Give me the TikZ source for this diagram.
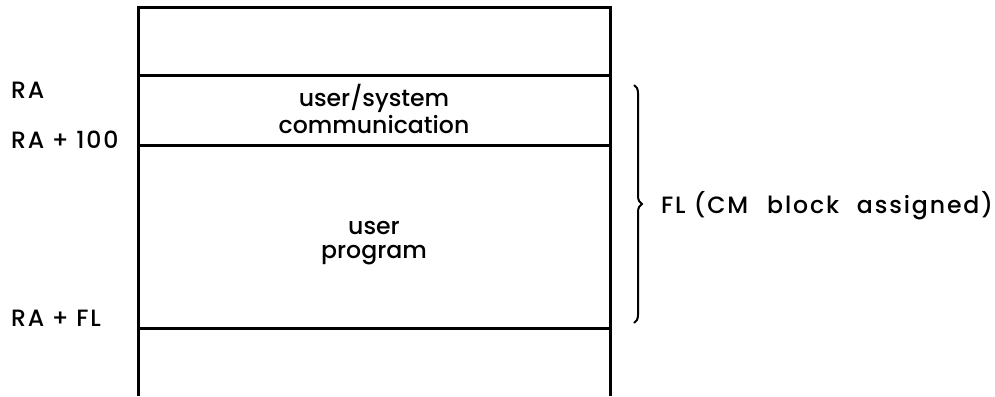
\documentclass[tikz,border=0pt]{standalone}
\usepackage{fontspec}
\setmainfont{Poppins}[UprightFont={* Medium}]
\usetikzlibrary{decorations.pathreplacing}

\begin{document}
\begin{tikzpicture}[x=0.5pt,y=-0.5pt,
    wall/.style={line width=1.5pt},
    addr/.style={anchor=west,font=\fontsize{11.8}{12}\selectfont\addfontfeatures{LetterSpace=8}},
    txt/.style={align=center,font=\fontsize{11.8}{12}\selectfont}]
    \useasboundingbox (0,0) rectangle (995,396);

    \draw[wall] (138,396) -- (138,7) -- (610,7) -- (610,396);
    \foreach \y in {75,145,328}
        \draw[wall] (138,\y) -- (610,\y);

    \node[addr] (ra) at (4,90) {RA};
    \node[addr] (ra100) at (4,140) {RA\hspace{0.32em}+\hspace{0.32em}100};
    \node[addr] (rafl) at (4,318) {RA\hspace{0.32em}+\hspace{0.32em}FL};

    \node[txt] (comm) at (374,109) {user/system\\communication};
    \node[txt] (prog) at (374,243) {user\\program};

    \coordinate (bt) at (634,85);
    \coordinate (bb) at (634,323);
    \draw[line width=1pt,decorate,decoration={brace,amplitude=4pt}] (bt) -- (bb);
    \node[addr] (fl) at (654,206) {FL\hspace{0.35em}(CM\hspace{0.8em}block\hspace{0.75em}assigned)};
\end{tikzpicture}
\end{document}
